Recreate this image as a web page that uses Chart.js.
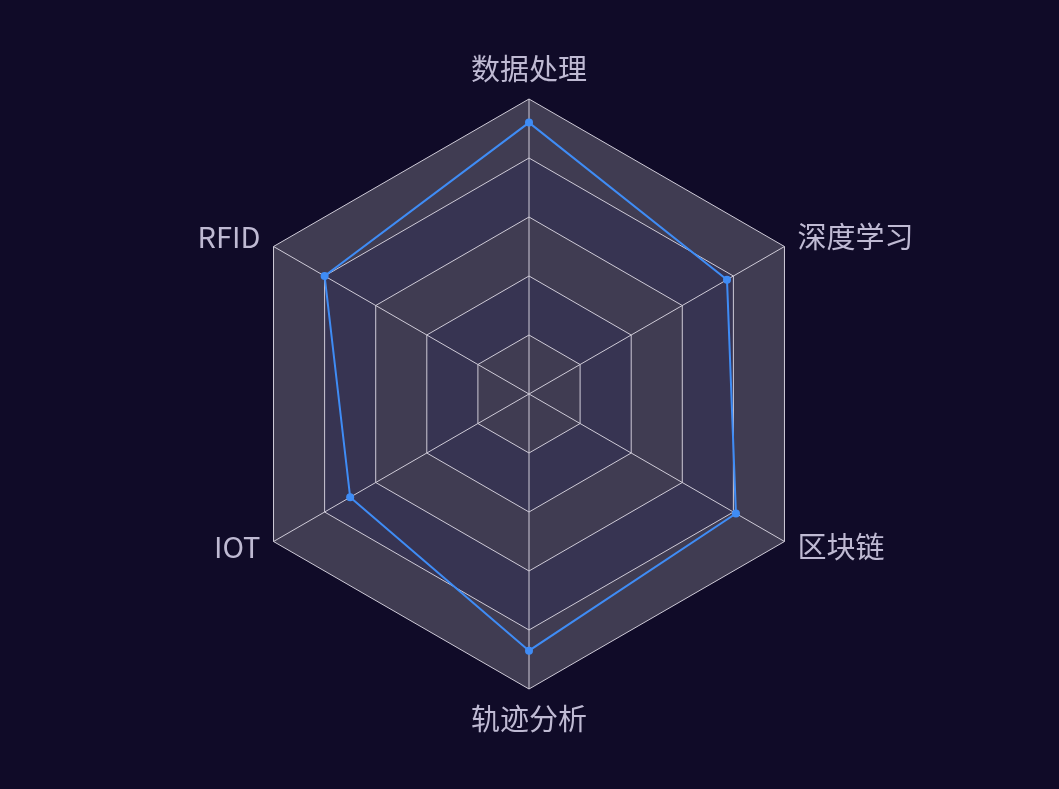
<!DOCTYPE html>
<html>
<head>
<meta charset="utf-8">
<script src="https://cdn.jsdelivr.net/npm/chart.js@4"></script>
<style>
  html, body { margin: 0; padding: 0; background: #100b28; }
  #wrap { width: 1059px; height: 789px; }
</style>
</head>
<body>
<div id="wrap"><canvas id="c"></canvas></div>
<script>
const categories = ['数据处理', '深度学习', '区块链', '轨迹分析', 'IOT', 'RFID'];
const values = [92, 77.5, 81, 87, 70, 80];
const ringLevels = [100, 80, 60, 40, 20];
const ringColors = ['#403c52', '#373452', '#403c52', '#373452', '#403c52'];
const labelValue = 105.1;

const ringPlugin = {
  id: 'rings',
  beforeDraw(chart) {
    const scale = chart.scales.r;
    const ctx = chart.ctx;
    const n = categories.length;
    ctx.save();
    ringLevels.forEach((lv, k) => {
      ctx.beginPath();
      for (let i = 0; i < n; i++) {
        const p = scale.getPointPositionForValue(i, lv);
        if (i === 0) ctx.moveTo(p.x, p.y); else ctx.lineTo(p.x, p.y);
      }
      ctx.closePath();
      ctx.fillStyle = ringColors[k];
      ctx.fill();
    });
    ctx.restore();
  },
  afterDraw(chart) {
    const scale = chart.scales.r;
    const ctx = chart.ctx;
    ctx.save();
    ctx.fillStyle = '#bfbad3';
    ctx.font = '29px "Noto Sans CJK SC", "Noto Sans", sans-serif';
    categories.forEach((name, i) => {
      const p = scale.getPointPositionForValue(i, labelValue);
      const dx = p.x - scale.xCenter, dy = p.y - scale.yCenter;
      let y = p.y;
      if (Math.abs(dx) < 1) {
        ctx.textAlign = 'center';
        ctx.textBaseline = dy < 0 ? 'bottom' : 'top';
      } else {
        ctx.textAlign = dx > 0 ? 'left' : 'right';
        ctx.textBaseline = 'middle';
        y -= 2;
      }
      ctx.fillText(name, p.x, y);
    });
    ctx.restore();
  }
};

new Chart(document.getElementById('c'), {
  type: 'radar',
  data: {
    labels: categories,
    datasets: [{
      data: values,
      borderColor: '#3f8cf5',
      backgroundColor: 'transparent',
      borderWidth: 2,
      pointRadius: 4,
      pointBackgroundColor: '#3f8cf5',
      pointBorderWidth: 0,
      fill: false
    }]
  },
  options: {
    responsive: true,
    maintainAspectRatio: false,
    animation: false,
    layout: { padding: { top: 99, bottom: 100 } },
    plugins: { legend: { display: false }, tooltip: { enabled: false } },
    scales: {
      r: {
        min: 0,
        max: 100,
        ticks: { stepSize: 20, display: false },
        grid: { color: '#cfcbd8', lineWidth: 1 },
        angleLines: { color: '#cfcbd8', lineWidth: 1 },
        pointLabels: { display: false }
      }
    }
  },
  plugins: [ringPlugin]
});
</script>
</body>
</html>
